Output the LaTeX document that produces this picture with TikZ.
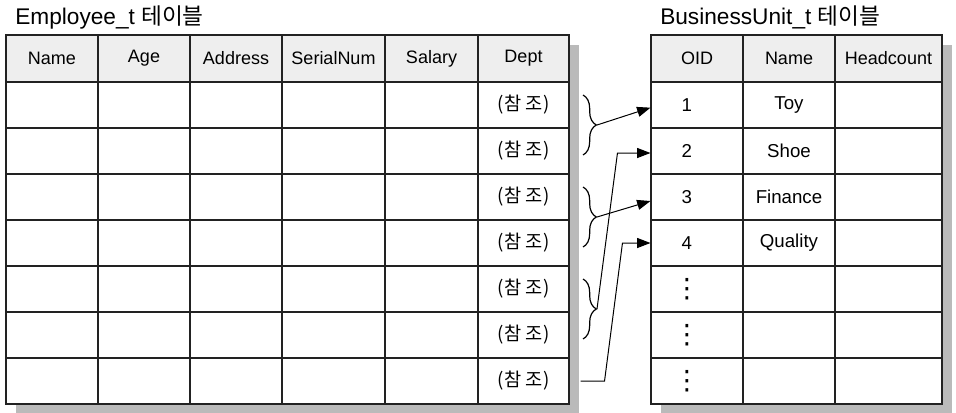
\documentclass[tikz,border=0pt]{standalone}
\usepackage{fontspec}
\setmainfont{Liberation Sans}
\newfontfamily\krfont{Noto Sans CJK KR}
\newfontfamily\symfont{DejaVu Sans}
\usepackage{tikz}
\usetikzlibrary{arrows.meta,calc,decorations.pathreplacing}
\definecolor{headgray}{HTML}{EEEEEE}
\definecolor{shadowgray}{HTML}{BABABA}
\definecolor{gridline}{HTML}{222222}
\newcommand\refcell{{\krfont\fontsize{14}{16}\selectfont(\kern1pt참\kern2.5pt조\kern1pt)}}
\newcommand\moredots{\kern-6pt{\symfont\fontsize{20}{20}\selectfont ⋮}}

\tikzset{
  cell/.style={draw=gridline,fill=white,line width=0.8pt,minimum height=34.5pt,inner sep=0pt,font=\fontsize{14}{16}\selectfont},
  headcell/.style={cell,fill=headgray,minimum height=35.25pt,font=\fontsize{13.5}{16}\selectfont},
  oidcell/.style={cell,inner xsep=23pt,text width=23pt,align=left},
  title/.style={anchor=west,inner sep=0pt,font=\fontsize{17}{20}\selectfont},
  link/.style={-{Triangle[length=10pt,width=7.5pt]},line width=0.75pt},
  refbrace/.style={decorate,decoration={brace,amplitude=10pt},line width=0.9pt}
}

\begin{document}
\begin{tikzpicture}[x=0.75pt,y=-0.75pt]
\useasboundingbox (0,0) rectangle (956,412);
\node[title] (emptitle) at (15,17) {Employee\_t {\krfont 테이블}};
\node[title] (butitle) at (660,17) {BusinessUnit\_t {\krfont 테이블}};
\fill[shadowgray] (16,45) rectangle (579,414);
\fill[shadowgray] (661,45) rectangle (952,414);
% Employee_t
\foreach \cx/\w/\lbl [count=\c] in {52/69/Name,144/69/Age,236/69/Address,333.5/77.25/SerialNum,431.5/69.75/Salary,523.5/68.25/Dept}{
  \node[headcell,minimum width=\w pt] (emp-\c-0) at (\cx,58.5) {\lbl};
  \foreach \r in {1,...,7}
    \node[cell,minimum width=\w pt] (emp-\c-\r) at (\cx,59+46*\r) {\ifnum\c=6 \refcell\fi};
}
% BusinessUnit_t
\foreach \cx/\w/\lbl [count=\c] in {697/69/OID,789/69/Name,888.5/80.25/Headcount}
  \node[headcell,minimum width=\w pt] (bu-\c-0) at (\cx,58.5) {\lbl};
\foreach \oid/\name [count=\r] in {1/Toy,2/Shoe,3/Finance,4/Quality,\moredots/,\moredots/,\moredots/}{
  \node[oidcell] (bu-1-\r) at (697,59+46*\r) {\oid};
  \node[cell,minimum width=69pt] (bu-2-\r) at (789,59+46*\r) {\name};
  \node[cell,minimum width=80.25pt] (bu-3-\r) at (888.5,59+46*\r) {};
}
\foreach \k/\ya/\yb in {1/95/155,2/187/247,3/279/339}{
  \draw[refbrace] (583,\ya) -- (583,\yb);
  \coordinate (tip\k) at (597,{(\ya+\yb)/2});
}
\draw[link] (tip1) -- ([yshift=-2pt]bu-1-1.west);
\draw[link] (tip2) -- ([yshift=-3pt]bu-1-3.west);
\draw[link] (tip3) -- ($(bu-1-2.west)+(-33,2)$) -- ($(bu-1-2.west)+(0,2)$);
\draw[link] ($(emp-6-7.east)+(11,0)$) -- ($(emp-6-7.east)+(35,0)$) -- ($(bu-1-4.west)+(-28,0)$) -- (bu-1-4.west);
\end{tikzpicture}
\end{document}
